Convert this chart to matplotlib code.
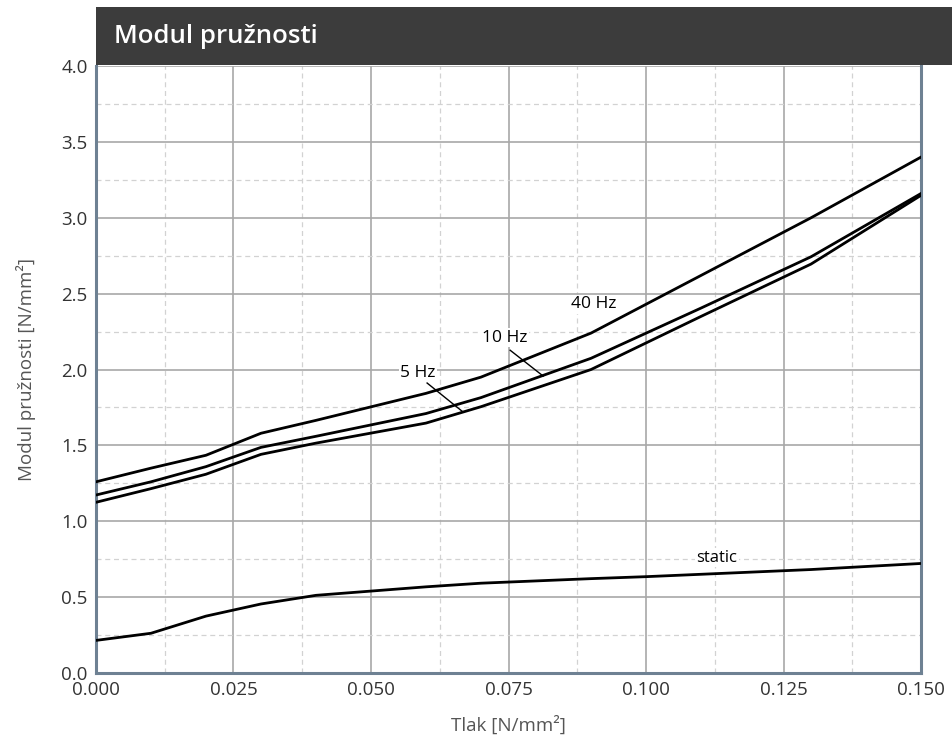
import matplotlib.pyplot as plt
from matplotlib.patches import Rectangle
from matplotlib.ticker import MultipleLocator

plt.rcParams['font.family'] = ['Open Sans', 'DejaVu Sans']

# pressure values (N/mm2)
x_dyn = [0.0, 0.01, 0.02, 0.03, 0.04, 0.06, 0.07, 0.09, 0.11, 0.13, 0.15]
hz40 = [1.26, 1.35, 1.435, 1.58, 1.665, 1.843, 1.95, 2.24, 2.62, 3.0, 3.40]
hz10 = [1.173, 1.26, 1.36, 1.487, 1.56, 1.71, 1.815, 2.074, 2.405, 2.743, 3.16]
hz5 = [1.125, 1.215, 1.31, 1.441, 1.515, 1.647, 1.755, 2.0, 2.35, 2.695, 3.148]

x_static = [0.0, 0.01, 0.02, 0.03, 0.04, 0.06, 0.07, 0.09, 0.10, 0.13, 0.15]
static = [0.215, 0.262, 0.375, 0.455, 0.512, 0.568, 0.592, 0.622, 0.635, 0.682, 0.722]

fig = plt.figure(figsize=(9.52, 7.4), dpi=100)
ax = fig.add_axes([0.1008, 0.0905, 0.8667, 0.8203])

# title bar across the top
fig.patches.append(Rectangle((0.1008, 0.912), 0.9, 0.0785, transform=fig.transFigure,
                             facecolor='#3c3c3c', edgecolor='none'))
fig.text(0.120, 0.951, 'Modul pružnosti', color='white', fontsize=18.5,
         fontweight='semibold', va='center', ha='left')

for xs, ys in [(x_dyn, hz40), (x_dyn, hz10), (x_dyn, hz5), (x_static, static)]:
    ax.plot(xs, ys, color='black', lw=2.0, zorder=3)

box = dict(facecolor='white', edgecolor='none', pad=1)
ax.text(0.0905, 2.43, '40 Hz', fontsize=12.5, ha='center', va='center', bbox=box, zorder=4)
ax.text(0.0744, 2.21, '10 Hz', fontsize=12.5, ha='center', va='center', bbox=box, zorder=4)
ax.text(0.0585, 1.98, '5 Hz', fontsize=12.5, ha='center', va='center', bbox=box, zorder=4)
ax.text(0.1129, 0.76, 'static', fontsize=12, ha='center', va='center', bbox=box, zorder=4)
# leader lines
ax.plot([0.0753, 0.0813], [2.127, 1.957], color='black', lw=1.0, zorder=3)
ax.plot([0.0602, 0.0665], [1.911, 1.727], color='black', lw=1.0, zorder=3)

ax.set_xlim(0, 0.15)
ax.set_ylim(0, 4.0)
ax.xaxis.set_major_locator(MultipleLocator(0.025))
ax.xaxis.set_minor_locator(MultipleLocator(0.0125))
ax.yaxis.set_major_locator(MultipleLocator(0.5))
ax.yaxis.set_minor_locator(MultipleLocator(0.25))
ax.xaxis.set_major_formatter(lambda v, p: f'{v:.3f}')
ax.yaxis.set_major_formatter(lambda v, p: f'{v:.1f}')

ax.grid(which='major', color='#a8a8a8', lw=1.2, zorder=1)
ax.grid(which='minor', color='#d2d2d2', lw=0.9, ls=(0, (4, 3)), zorder=1)
ax.set_axisbelow(True)
ax.tick_params(which='both', length=0, labelsize=13.5, colors='#333333', pad=6)

for side in ['left', 'bottom', 'right']:
    ax.spines[side].set_color('#6e8193')
    ax.spines[side].set_linewidth(2.2)
ax.spines['top'].set_visible(False)

ax.set_xlabel('Tlak [N/mm²]', fontsize=13.5, color='#555555', labelpad=12)
ax.set_ylabel('Modul pružnosti [N/mm²]', fontsize=13.5, color='#555555', labelpad=18)

plt.savefig('out.png', dpi=100)
